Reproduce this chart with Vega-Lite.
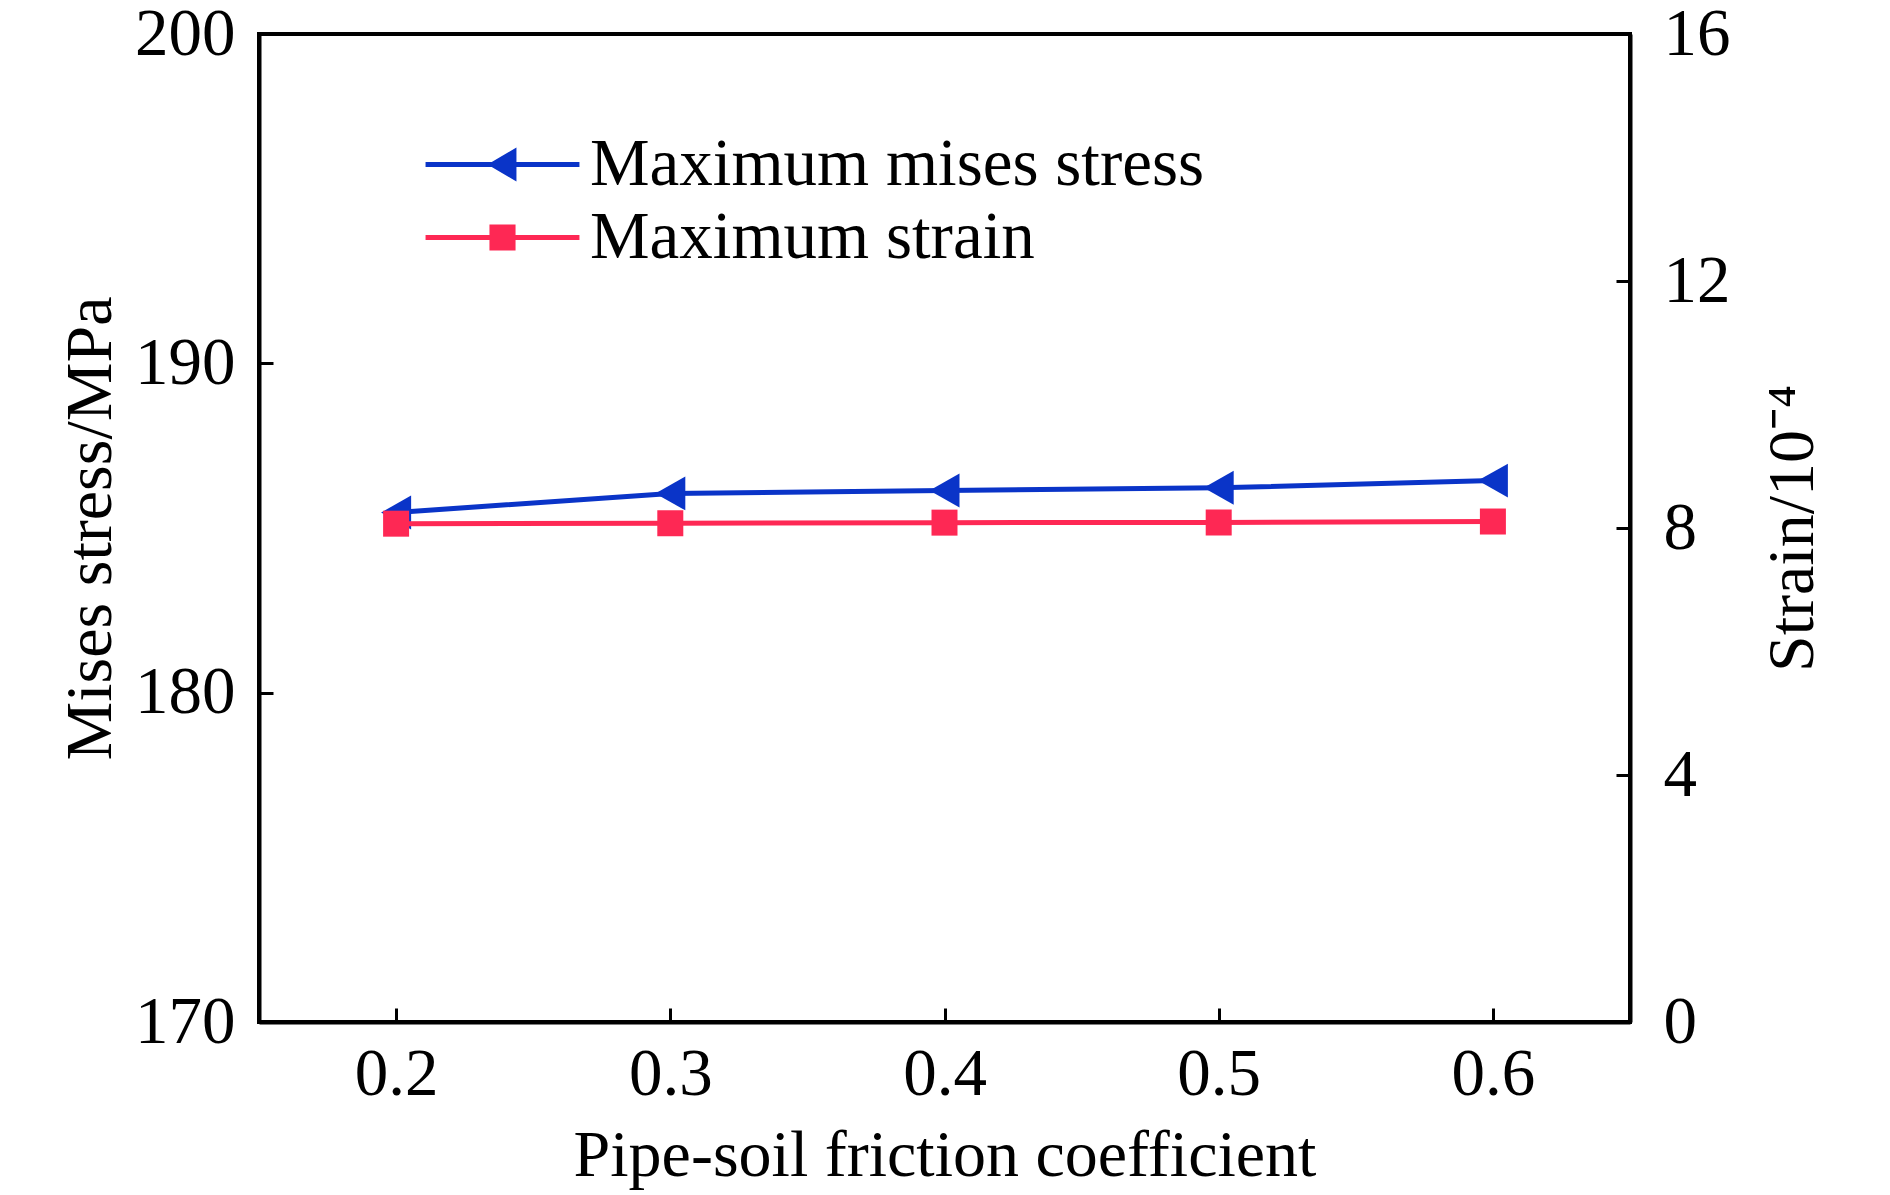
{
  "$schema": "https://vega.github.io/schema/vega-lite/v6.json",
  "width": 1371,
  "height": 988,
  "autosize": "none",
  "padding": {"left": 259, "top": 34, "right": 260, "bottom": 173},
  "background": "white",
  "config": {
    "font": "Liberation Serif",
    "view": {"stroke": "black", "strokeWidth": 4},
    "axis": {
      "labelFont": "Liberation Serif",
      "labelFontSize": 67,
      "labelColor": "black",
      "titleFont": "Liberation Serif",
      "titleFontSize": 66,
      "titleFontWeight": "normal",
      "titleColor": "black",
      "domainColor": "black",
      "domainWidth": 4,
      "tickColor": "black",
      "tickWidth": 3,
      "tickSize": -14,
      "grid": false
    },
    "legend": {"padding": 0}
  },
  "data": {
    "values": [
      {"coef": 0.2, "series": "Maximum mises stress", "value": 185.47},
      {"coef": 0.3, "series": "Maximum mises stress", "value": 186.05},
      {"coef": 0.4, "series": "Maximum mises stress", "value": 186.14},
      {"coef": 0.5, "series": "Maximum mises stress", "value": 186.22},
      {"coef": 0.6, "series": "Maximum mises stress", "value": 186.44},
      {"coef": 0.2, "series": "Maximum strain", "value": 8.07},
      {"coef": 0.3, "series": "Maximum strain", "value": 8.077},
      {"coef": 0.4, "series": "Maximum strain", "value": 8.087},
      {"coef": 0.5, "series": "Maximum strain", "value": 8.089},
      {"coef": 0.6, "series": "Maximum strain", "value": 8.105}
    ]
  },
  "encoding": {
    "x": {
      "field": "coef",
      "type": "quantitative",
      "scale": {"domain": [0.15, 0.65], "nice": false, "zero": false},
      "axis": {
        "values": [0.2, 0.3, 0.4, 0.5, 0.6],
        "format": ".1f",
        "title": "Pipe-soil friction coefficient",
        "labelBaseline": "alphabetic",
        "labelPadding": 86,
        "titleBaseline": "alphabetic",
        "titleY": 153
      }
    },
    "color": {
      "field": "series",
      "type": "nominal",
      "scale": {
        "domain": ["Maximum mises stress", "Maximum strain"],
        "range": ["#0a34c8", "#fe2854"]
      },
      "legend": {
        "orient": "none",
        "legendX": 210,
        "legendY": 97,
        "title": null,
        "labelFont": "Liberation Serif",
        "labelFontSize": 67,
        "labelColor": "black",
        "labelLimit": 0,
        "symbolSize": 900,
        "labelOffset": 54,
        "rowPadding": 5,
        "encode": {
          "symbols": {
            "update": {
              "shape": {"signal": "datum.value === 'Maximum strain' ? 'M-5.13,-0.17H5.13V0.17H-5.13Z M-0.87,-0.87H0.87V0.87H-0.87Z' : 'M-5.13,-0.17H5.13V0.17H-5.13Z M-1,0L0.93,-1.13L0.93,1.13Z'"},
              "fill": {"signal": "datum.value === 'Maximum strain' ? '#fe2854' : '#0a34c8'"},
              "stroke": {"value": "transparent"},
              "strokeWidth": {"value": 0},
              "opacity": {"value": 1}
            }
          }
        }
      }
    }
  },
  "layer": [
    {
      "transform": [{"filter": "datum.series === 'Maximum mises stress'"}],
      "encoding": {
        "y": {
          "field": "value",
          "type": "quantitative",
          "scale": {"domain": [170, 200], "nice": false, "zero": false},
          "axis": {
            "orient": "left",
            "values": [170, 180, 190, 200],
            "title": "Mises stress/MPa",
            "labelPadding": 38,
            "titleX": -169,
            "titleY": 494,
            "titleBaseline": "middle"
          }
        }
      },
      "layer": [
        {"mark": {"type": "line", "strokeWidth": 5}},
        {"mark": {"type": "point", "shape": "M-1,0L1,-1.13L1,1.13Z", "size": 900, "filled": true, "opacity": 1, "strokeWidth": 0}}
      ]
    },
    {
      "transform": [{"filter": "datum.series === 'Maximum strain'"}],
      "encoding": {
        "y": {
          "field": "value",
          "type": "quantitative",
          "scale": {"domain": [0, 16], "nice": false, "zero": false},
          "axis": {
            "orient": "right",
            "values": [0, 4, 8, 12, 16],
            "title": "Strain/10⁻⁴",
            "labelPadding": 47,
            "titleAngle": -90,
            "titleX": 162,
            "titleY": 494,
            "titleBaseline": "middle"
          }
        }
      },
      "layer": [
        {"mark": {"type": "line", "strokeWidth": 5}},
        {"mark": {"type": "point", "shape": "square", "size": 676, "filled": true, "opacity": 1, "strokeWidth": 0}}
      ]
    }
  ],
  "resolve": {"scale": {"y": "independent"}}
}
